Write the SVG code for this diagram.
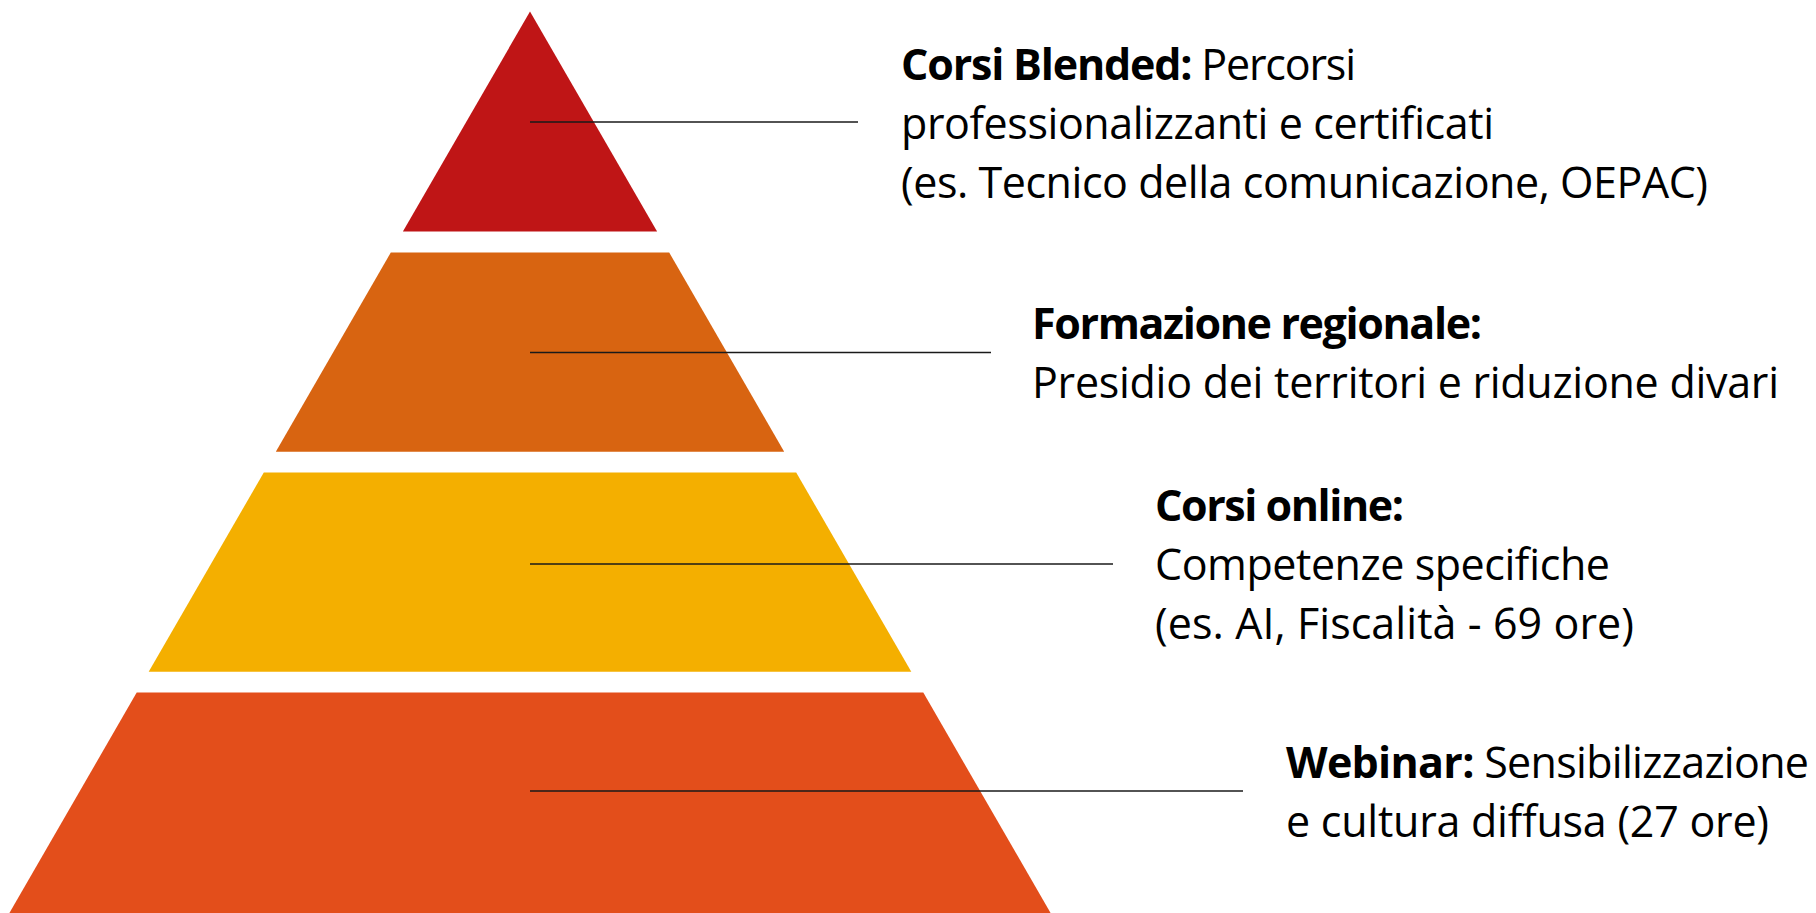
<svg xmlns="http://www.w3.org/2000/svg" width="1816" height="913" viewBox="0 0 1816 913">
<style>
.lbl{font-family:"Open Sans","Liberation Sans",sans-serif;font-size:43px;fill:#000}
.b{font-weight:bold}
.conn line{stroke:#1a1a1a;stroke-width:1.4}
</style>
<rect width="1816" height="913" fill="#fff"/>
<g id="level-blended"><polygon points="530,11.5 657.1,231.6 402.9,231.6" fill="#BF1516"/></g>
<g id="level-regionale"><polygon points="390.8,252.5 669.2,252.5 784.2,451.7 275.8,451.7" fill="#D86411"/></g>
<g id="level-online"><polygon points="263.8,472.5 796.2,472.5 911.3,671.7 148.7,671.7" fill="#F4AF00"/></g>
<g id="level-webinar"><polygon points="136.7,692.6 923.3,692.6 1050.6,913 9.4,913" fill="#E34E1B"/></g>
<g id="connectors" class="conn">
<line x1="530" y1="122" x2="858" y2="122"/>
<line x1="530" y1="352.5" x2="991" y2="352.5"/>
<line x1="530" y1="564" x2="1113" y2="564"/>
<line x1="530" y1="791" x2="1243" y2="791"/>
</g>
<g id="text-blended" class="lbl">
<text x="901" y="80" textLength="455"><tspan class="b">Corsi Blended:</tspan> Percorsi</text>
<text x="901" y="139" textLength="593">professionalizzanti e certificati</text>
<text x="901" y="198" textLength="807">(es. Tecnico della comunicazione, OEPAC)</text>
</g>
<g id="text-regionale" class="lbl">
<text x="1032" y="339" textLength="450" class="b">Formazione regionale:</text>
<text x="1032" y="398" textLength="747">Presidio dei territori e riduzione divari</text>
</g>
<g id="text-online" class="lbl">
<text x="1155" y="521" textLength="249" class="b">Corsi online:</text>
<text x="1155" y="580" textLength="455">Competenze specifiche</text>
<text x="1155" y="639" textLength="479">(es. AI, Fiscalità - 69 ore)</text>
</g>
<g id="text-webinar" class="lbl">
<text x="1286" y="778" textLength="523"><tspan class="b">Webinar:</tspan> Sensibilizzazione</text>
<text x="1286" y="837" textLength="483">e cultura diffusa (27 ore)</text>
</g>
</svg>
